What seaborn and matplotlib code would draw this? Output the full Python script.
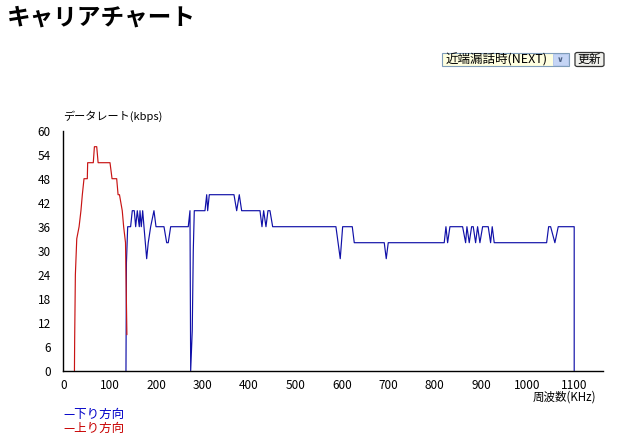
import numpy as np
import pandas as pd
import matplotlib
matplotlib.use("Agg")
import matplotlib.pyplot as plt
import seaborn as sns
from matplotlib.patches import Rectangle, FancyBboxPatch

# 周波数(KHz) と データレート(kbps) の読み取り値
down_freq = [135, 136, 138.7, 145, 148.6, 152.9, 155.9, 159.4, 163.7, 165.2, 168, 171, 173.8,
             179.6, 183, 188.2, 195.3, 199.7, 216.9, 222.7, 226.1, 231.3, 269.2, 272.9, 274.4,
             277.8, 280, 282.2, 305.2, 308.9, 311, 314.5, 367.7, 373.5, 379.1, 384.2, 423.7,
             428, 431.6, 436.6, 440.9, 445.2, 451, 587.3, 596.6, 601.8, 622.5, 626.8, 691.4,
             695.7, 700, 820.6, 824.3, 827.9, 832.9, 860.2, 866.7, 869.5, 874.5, 879.6, 883.1,
             888.2, 892.5, 897.5, 903.3, 915.4, 920.5, 924, 928.3, 1041.2, 1045.5, 1049.8,
             1059, 1066.2, 1100.6, 1100.6]
down_rate = [0, 27, 36, 36, 40, 40, 36, 40, 36, 40, 36, 40, 36,
             28, 32, 36, 40, 36, 36, 32, 32, 36, 36, 40, 0,
             10, 30, 40, 40, 44, 40, 44, 44, 40, 44, 40, 40,
             36, 40, 36, 40, 40, 36, 36, 28, 36, 36, 32, 32,
             28, 32, 32, 36, 32, 36, 36, 32, 36, 32, 36, 36,
             32, 36, 32, 36, 36, 32, 36, 32, 32, 36, 36,
             32, 36, 36, 0]

up_freq = [24, 24.5, 26, 29, 34, 38, 41, 44.6, 51.7, 52.5, 64.6, 67, 72, 75, 100.6,
           105, 115, 118, 121, 124, 127, 130, 134, 137]
up_rate = [0, 8, 24, 33, 36, 40, 44, 48, 48, 52, 52, 56, 56, 52, 52,
           48, 48, 44, 44, 42, 40, 36, 32, 9]

series_names = ["下り方向", "上り方向"]
series_colors = ["#1010a8", "#c81414"]
x_ticks = list(range(0, 1101, 100))
y_ticks = list(range(0, 61, 6))

df = pd.concat([
    pd.DataFrame({"freq": down_freq, "rate": down_rate, "dir": series_names[0]}),
    pd.DataFrame({"freq": up_freq, "rate": up_rate, "dir": series_names[1]}),
], ignore_index=True)

sns.set_style("white")
plt.rcParams["font.family"] = ["Noto Sans CJK JP", "DejaVu Sans"]
plt.rcParams["text.color"] = "black"

W, H = 621, 437
fig = plt.figure(figsize=(W / 100, H / 100), dpi=100)
ax = fig.add_axes([63.3 / W, 1 - 370.7 / H, (602.7 - 63.3) / W, 240 / H])

sns.lineplot(data=df, x="freq", y="rate", hue="dir", estimator=None, sort=False,
             palette=dict(zip(series_names, series_colors)),
             linewidth=0.85, legend=False, ax=ax)

ax.set_xlim(0, 1162)
ax.set_ylim(0, 60)
ax.set_xticks(x_ticks)
ax.set_yticks(y_ticks)
ax.set_xlabel("")
ax.set_ylabel("")
for s in ["top", "right"]:
    ax.spines[s].set_visible(False)
for s in ["left", "bottom"]:
    ax.spines[s].set_color("black")
    ax.spines[s].set_linewidth(1.0)
ax.tick_params(axis="y", direction="out", length=3, width=1, pad=6, labelsize=8.5,
               colors="black")
ax.tick_params(axis="x", direction="in", length=3, width=1, pad=6, labelsize=8.5,
               colors="black")

# 軸タイトル
fig.text(63 / W, 1 - 116 / H, "データレート(kbps)", fontsize=8, va="center", ha="left")
fig.text(596 / W, 1 - 397.5 / H, "周波数(KHz)", fontsize=8.3, va="center", ha="right")

# 凡例(テキスト)
fig.text(63 / W, 1 - 414 / H, "—" + series_names[0], fontsize=9, color="#0000c8", va="center")
fig.text(63 / W, 1 - 428.5 / H, "—" + series_names[1], fontsize=9, color="#c80000", va="center")

# タイトル
fig.text(7 / W, 1 - 17.5 / H, "キャリアチャート", fontsize=17, fontweight="bold", va="center")

# セレクトボックスとボタン
sel = Rectangle((441.5 / W, 1 - 66 / H), (568.5 - 441.5) / W, 12.7 / H, transform=fig.transFigure,
                facecolor="#ffffe0", edgecolor="#7f9db9", linewidth=0.8)
fig.add_artist(sel)
arr = Rectangle((553 / W, 1 - 65 / H), 14.5 / W, 11 / H, transform=fig.transFigure,
                facecolor="#c5d5f5", edgecolor="#b0c4ee", linewidth=0.6)
fig.add_artist(arr)
fig.text(560.2 / W, 1 - 59.8 / H, "∨", fontsize=6, color="#4d6185", ha="center", va="center",
         fontweight="bold", family=["DejaVu Sans"])
fig.text(446 / W, 1 - 59.5 / H, "近端漏話時(NEXT)", fontsize=9, va="center", ha="left")
btn = FancyBboxPatch((575 / W, 1 - 66.5 / H), 29 / W, 14 / H, transform=fig.transFigure,
                     boxstyle="round,pad=0,rounding_size=0.004", facecolor="#f0f0ec",
                     edgecolor="#333333", linewidth=0.9)
fig.add_artist(btn)
fig.text(589.5 / W, 1 - 59.5 / H, "更新", fontsize=8.5, va="center", ha="center")

fig.savefig("out.png", dpi=100)
